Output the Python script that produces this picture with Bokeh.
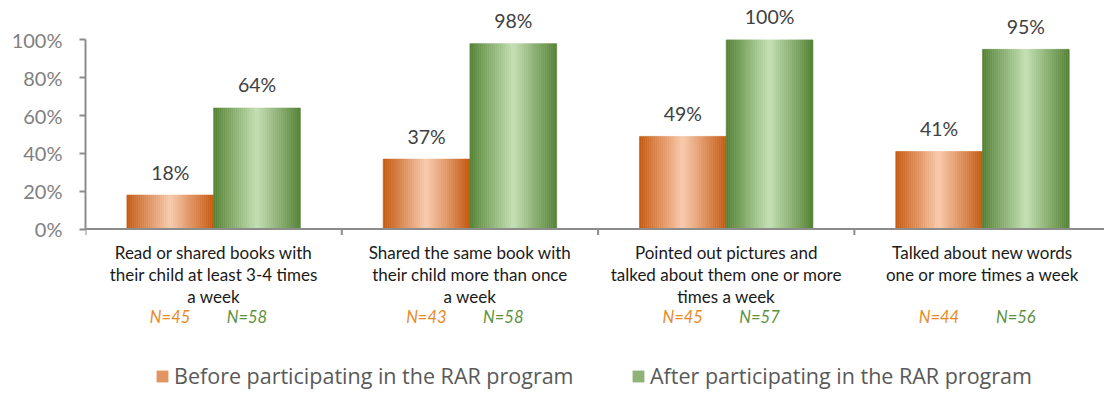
from bokeh.plotting import figure
from bokeh.models import Range1d, FixedTicker, Span, Legend, LegendItem, ColumnDataSource
from bokeh.core.properties import value
from bokeh.embed import file_html
from bokeh.resources import INLINE

# ---------------- data ----------------
categories = [
    "Read or shared books with\ntheir child at least 3-4 times\na week",
    "Shared the same book with\ntheir child more than once\na week",
    "Pointed out pictures and\ntalked about them one or more\ntimes a week",
    "Talked about new words\none or more times a week",
]
before_pct = [18, 37, 49, 41]
after_pct = [64, 98, 100, 95]
before_n = [45, 43, 45, 44]
after_n = [58, 58, 57, 56]
series_names = ["Before participating in the RAR program",
                "After participating in the RAR program"]
y_ticks = [0, 20, 40, 60, 80, 100]

# ---------------- layout / style ----------------
W, H = 1104, 390
SX, SY = W / 1120.0, H / 406.0          # fit the 1120x406 design into the figure
LEFT = round(86 * SX)
PX_PER_CAT = 260.0 * SX
ZERO_Y = 238 * SY                        # pixel row of 0%
PX_PER_PCT = (238 - 41) * SY / 100.0
BAR_W = 88 / 260.0
N_STRIPS = 44

y_top = ZERO_Y / PX_PER_PCT
y_bot = y_top - H / PX_PER_PCT
x_end = (W - LEFT) / PX_PER_CAT


def px(p):
    return p * SY / PX_PER_PCT


def row_to_y(s):
    return (ZERO_Y - s * SY) / PX_PER_PCT


def hex2rgb(h):
    h = h.lstrip("#")
    return tuple(int(h[i:i + 2], 16) for i in (0, 2, 4))


def lerp(c1, c2, t):
    a, b = hex2rgb(c1), hex2rgb(c2)
    return "#%02x%02x%02x" % tuple(round(a[i] + (b[i] - a[i]) * t) for i in range(3))


ORANGE_EDGE, ORANGE_MID = "#c55a11", "#f8cbad"
GREEN_EDGE, GREEN_MID = "#548235", "#c5e0b4"
AXIS_COLOR = "#8c8c8c"

p = figure(width=W, height=H, output_backend="svg", toolbar_location=None,
           x_range=Range1d(0, x_end), y_range=Range1d(y_bot, y_top),
           x_axis_location=None, min_border_left=LEFT, min_border_right=0,
           min_border_top=0, min_border_bottom=0)
p.outline_line_color = None
p.grid.visible = False
p.background_fill_color = "white"


def gradient_bars(values, offset, edge, mid):
    left, right, top, bottom, color = [], [], [], [], []
    for i, v in enumerate(values):
        x0 = i + 0.5 + offset
        for k in range(N_STRIPS):
            t0 = k / N_STRIPS
            t1 = (k + 1) / N_STRIPS
            d = abs((t0 + t1) / 2 - 0.5) * 2
            left.append(x0 + t0 * BAR_W)
            right.append(x0 + t1 * BAR_W)
            top.append(v)
            bottom.append(0)
            color.append(lerp(mid, edge, d))
    src = ColumnDataSource(dict(left=left, right=right, top=top, bottom=bottom, color=color))
    return p.quad(left="left", right="right", top="top", bottom="bottom", source=src,
                  fill_color="color", line_color="color", line_width=0.6)


r_before = gradient_bars(before_pct, -BAR_W, ORANGE_EDGE, ORANGE_MID)
r_after = gradient_bars(after_pct, 0.0, GREEN_EDGE, GREEN_MID)

# value labels
label_font = value("Lato")
xs_b = [i + 0.5 - BAR_W / 2 for i in range(len(categories))]
xs_a = [i + 0.5 + BAR_W / 2 for i in range(len(categories))]
p.text(x=xs_b + xs_a, y=[v + px(24) for v in before_pct + after_pct],
       text=[f"{v}%" for v in before_pct + after_pct],
       text_align="center", text_baseline="middle", text_font=label_font,
       text_font_size="19.5px", text_color="#404040")

# x axis line and category boundary ticks
p.add_layout(Span(location=0, dimension="width", line_color=AXIS_COLOR, line_width=2))
bounds = list(range(len(categories) + 1))
p.segment(x0=bounds, x1=bounds, y0=[0] * len(bounds), y1=[-px(6)] * len(bounds),
          line_color=AXIS_COLOR, line_width=2)

# category labels (one text row per line)
lx, ly, lt = [], [], []
for i, c in enumerate(categories):
    for j, line in enumerate(c.split("\n")):
        lx.append(i + 0.5)
        ly.append(row_to_y(262 + 23 * j))
        lt.append(line)
p.text(x=lx, y=ly, text=lt, text_align="center", text_baseline="middle",
       text_font=label_font, text_font_size="17px", text_color="#1a1a1a")

# N labels
ny = row_to_y(329)
p.text(x=[i + 0.5 - 0.17 for i in range(len(categories))], y=[ny] * len(categories),
       text=[f"N={n}" for n in before_n], text_align="center", text_baseline="middle",
       text_font=label_font, text_font_size="16.5px", text_font_style="italic",
       text_color="#e98a1f")
p.text(x=[i + 0.5 + 0.13 for i in range(len(categories))], y=[ny] * len(categories),
       text=[f"N={n}" for n in after_n], text_align="center", text_baseline="middle",
       text_font=label_font, text_font_size="16.5px", text_font_style="italic",
       text_color="#5d9140")

# y axis
ya = p.yaxis[0]
ya.ticker = FixedTicker(ticks=y_ticks)
ya.bounds = (0, 100)
ya.major_label_overrides = {t: f"{t}%" for t in y_ticks}
ya.axis_line_color = AXIS_COLOR
ya.axis_line_width = 2
ya.major_tick_line_color = AXIS_COLOR
ya.major_tick_line_width = 2
ya.major_tick_in = 0
ya.major_tick_out = 6
ya.minor_tick_line_color = None
ya.major_label_standoff = 17
ya.major_label_text_font = "Lato"
ya.major_label_text_font_size = "20px"
ya.major_label_text_color = "#808080"

# legends
mid_idx = N_STRIPS // 4
for name, rend, xloc in [(series_names[0], r_before, round(157 * SX) - LEFT),
                         (series_names[1], r_after, round(640 * SX) - LEFT)]:
    leg = Legend(items=[LegendItem(label=name, renderers=[rend], index=mid_idx)],
                 location=(xloc, 0), orientation="horizontal",
                 glyph_width=14, glyph_height=14, label_standoff=5,
                 label_text_font="Open Sans", label_text_font_size="21.5px",
                 label_text_color="#595959", padding=0, margin=0, spacing=0,
                 border_line_color=None, background_fill_alpha=0)
    p.add_layout(leg)

open("out.html", "w").write(file_html(p, INLINE))
